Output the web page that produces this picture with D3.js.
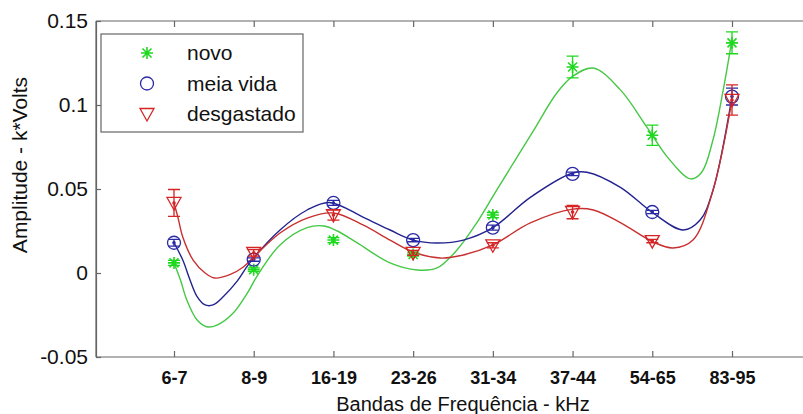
<!DOCTYPE html>
<html>
<head>
<meta charset="utf-8">
<script src="https://cdn.jsdelivr.net/npm/d3@7"></script>
<style>
  body { margin: 0; background: #fff; }
  svg { display: block; font-family: Arial, "Liberation Sans", sans-serif; }
  .axis path, .axis line { stroke: #666; stroke-width: 1.2; }
  .axis text { fill: #111; }
</style>
</head>
<body>
<svg width="803" height="414"></svg>
<script>
// frequency bands (x categories)
const bands = ['6-7', '8-9', '16-19', '23-26', '31-34', '37-44', '54-65', '83-95']
const yTicks = [-0.05, 0, 0.05, 0.1, 0.15]

// measured means and error half-widths
const novo = [0.006, 0.002, 0.0196, 0.011, 0.0345, 0.1226, 0.082, 0.137]
const novoErr = [0.0015, 0.001, 0.0015, 0.001, 0.0015, 0.0065, 0.006, 0.0065]
const meiaVida = [0.018, 0.008, 0.0417, 0.0196, 0.027, 0.059, 0.0363, 0.105]
const meiaVidaErr = [0.002, 0.001, 0.0015, 0.001, 0.0015, 0.001, 0.001, 0.005]
const desgastado = [0.0417, 0.012, 0.0345, 0.012, 0.0165, 0.0363, 0.019, 0.103]
const desgastadoErr = [0.008, 0.002, 0.003, 0.0015, 0.0015, 0.004, 0.001, 0.009]

// fitted curves: [band position, amplitude]
const novoFit = [[0, 0.006], [0.08, -0.004], [0.16, -0.016], [0.29, -0.028], [0.41, -0.032],
  [0.54, -0.031], [0.74, -0.024], [0.92, -0.012], [1.04, -0.002], [1.33, 0.0167],
  [1.67, 0.027], [1.88, 0.028], [2.05, 0.025], [2.30, 0.0179], [2.71, 0.006], [3.05, 0.0018],
  [3.30, 0.003], [3.55, 0.0137], [3.80, 0.030], [4.05, 0.0495], [4.5, 0.084], [4.8, 0.107],
  [5.0, 0.117], [5.26, 0.122], [5.60, 0.109], [5.93, 0.087], [6.19, 0.069], [6.48, 0.056],
  [6.62, 0.060], [6.76, 0.079], [6.89, 0.109], [7.0, 0.139]]
const meiaVidaFit = [[0, 0.018], [0.11, 0.0077], [0.2, -0.004], [0.29, -0.014], [0.39, -0.019],
  [0.49, -0.019], [0.62, -0.014], [0.79, -0.005], [0.95, 0.006], [1.33, 0.0256],
  [1.67, 0.0375], [1.95, 0.042], [2.37, 0.0333], [2.71, 0.0256], [3.0, 0.0196], [3.30, 0.0179],
  [3.63, 0.0196], [4.0, 0.027], [4.47, 0.045], [5.0, 0.0595], [5.18, 0.060], [5.6, 0.051],
  [6.01, 0.0357], [6.39, 0.0256], [6.6, 0.0315], [6.76, 0.049], [7.0, 0.105]]
const desgastadoFit = [[0, 0.0417], [0.05, 0.033], [0.11, 0.0214], [0.24, 0.0077], [0.39, 0.0],
  [0.51, -0.003], [0.70, -0.001], [0.87, 0.0036], [0.99, 0.009], [1.33, 0.0238],
  [1.67, 0.0327], [2.0, 0.0357], [2.37, 0.0286], [2.71, 0.0196], [3.0, 0.0125], [3.34, 0.0089],
  [3.63, 0.0107], [4.0, 0.0167], [4.47, 0.0298], [5.0, 0.038], [5.26, 0.0375], [5.6, 0.030],
  [6.01, 0.0185], [6.26, 0.0149], [6.51, 0.0196], [6.76, 0.049], [7.0, 0.103]]

const svg = d3.select('svg')
const plotLeft = 96, plotTop = 21, plotBottom = 357, plotRight = 830

const x = d3.scaleLinear().domain([0, 7]).range([174, 732])
const y = d3.scaleLinear().domain([-0.05, 0.15]).range([plotBottom, plotTop])

const series = [
  {name: 'novo', values: novo, err: novoErr, fit: novoFit, color: '#1fd81f', line: '#45c845', shape: 'star'},
  {name: 'meia vida', values: meiaVida, err: meiaVidaErr, fit: meiaVidaFit, color: '#2a2aa8', line: '#232390', shape: 'circle'},
  {name: 'desgastado', values: desgastado, err: desgastadoErr, fit: desgastadoFit, color: '#d62424', line: '#c83030', shape: 'tri'}
]

// axes
svg.append('g')
  .attr('class', 'axis')
  .attr('transform', 'translate(' + plotLeft + ',0)')
  .call(d3.axisLeft(y).tickValues(yTicks).tickSizeInner(-5).tickSizeOuter(0).tickPadding(8)
    .tickFormat(d => String(d)))
  .call(g => g.selectAll('text').attr('font-size', 21))

svg.append('g')
  .attr('class', 'axis')
  .attr('transform', 'translate(0,' + plotBottom + ')')
  .call(d3.axisBottom(x).tickValues(d3.range(bands.length)).tickSizeInner(-6).tickSizeOuter(0)
    .tickPadding(14).tickFormat(i => bands[i]))
  .call(g => g.select('.domain').attr('d', 'M' + plotLeft + ',0H' + plotRight))
  .call(g => g.selectAll('text').attr('font-size', 18).attr('font-weight', 'bold'))

svg.append('g')
  .attr('class', 'axis')
  .attr('transform', 'translate(0,' + plotTop + ')')
  .call(d3.axisTop(x).tickValues(d3.range(bands.length)).tickSizeInner(-6).tickSizeOuter(0)
    .tickFormat(''))
  .call(g => g.select('.domain').attr('d', 'M' + plotLeft + ',0H' + plotRight))

// titles
svg.append('text')
  .attr('x', 463).attr('y', 411)
  .attr('text-anchor', 'middle')
  .attr('font-size', 20)
  .attr('fill', '#111')
  .text('Bandas de Frequência - kHz')

svg.append('text')
  .attr('transform', 'translate(27,165) rotate(-90)')
  .attr('text-anchor', 'middle')
  .attr('font-size', 21)
  .attr('fill', '#111')
  .text('Amplitude - k*Volts')

// marker drawing
function drawMarker (g, shape, color) {
  if (shape === 'star') {
    const r = 6
    const r2 = 4.5
    g.append('path')
      .attr('d', 'M' + -r + ',0H' + r + 'M0,' + -r + 'V' + r +
        'M' + -r2 + ',' + -r2 + 'L' + r2 + ',' + r2 + 'M' + -r2 + ',' + r2 + 'L' + r2 + ',' + -r2)
      .attr('stroke', color).attr('stroke-width', 1.6).attr('fill', 'none')
  } else if (shape === 'circle') {
    g.append('circle').attr('r', 6.5)
      .attr('stroke', color).attr('stroke-width', 1.3).attr('fill', 'none')
  } else {
    g.append('path')
      .attr('d', 'M-7,-5.5L7,-5.5L0,7Z')
      .attr('stroke', color).attr('stroke-width', 1.3).attr('fill', 'none')
  }
}

const line = d3.line()
  .x(d => x(d[0]))
  .y(d => y(d[1]))
  .curve(d3.curveCatmullRom.alpha(0.5))

const plot = svg.append('g')

series.forEach(s => {
  plot.append('path')
    .datum(s.fit)
    .attr('d', line)
    .attr('fill', 'none')
    .attr('stroke', s.line)
    .attr('stroke-width', 1.4)
})

series.forEach(s => {
  const pts = plot.append('g').selectAll('g')
    .data(s.values.map((v, i) => ({i: i, v: v, e: s.err[i]})))
    .enter().append('g')

  // error bars
  pts.append('path')
    .attr('d', d => {
      const x0 = x(d.i), y1 = y(d.v + d.e), y2 = y(d.v - d.e)
      return 'M' + x0 + ',' + y1 + 'V' + y2 +
        'M' + (x0 - 6) + ',' + y1 + 'H' + (x0 + 6) +
        'M' + (x0 - 6) + ',' + y2 + 'H' + (x0 + 6)
    })
    .attr('stroke', s.color).attr('stroke-width', 1.3).attr('fill', 'none')

  pts.append('circle')
    .attr('cx', d => x(d.i)).attr('cy', d => y(d.v))
    .attr('r', 1.8).attr('fill', s.color)

  pts.append('g')
    .attr('transform', d => 'translate(' + x(d.i) + ',' + y(d.v) + ')')
    .each(function () { drawMarker(d3.select(this), s.shape, s.color) })
})

// left frame line drawn on top
svg.append('line')
  .attr('x1', plotLeft).attr('x2', plotLeft).attr('y1', plotTop).attr('y2', plotBottom)
  .attr('stroke', '#666').attr('stroke-width', 1.2)

// legend
const legend = svg.append('g')
legend.append('rect')
  .attr('x', 101).attr('y', 34).attr('width', 202).attr('height', 98)
  .attr('fill', '#fff').attr('stroke', '#666').attr('stroke-width', 1.2)

const legendRows = legend.selectAll('g.row')
  .data(series)
  .enter().append('g')
  .attr('class', 'row')
  .attr('transform', (d, i) => 'translate(147,' + (53 + i * 30.5) + ')')

legendRows.each(function (d) { drawMarker(d3.select(this), d.shape, d.color) })

legendRows.append('text')
  .attr('x', 40)
  .attr('dy', '0.35em')
  .attr('font-size', 21)
  .attr('fill', '#111')
  .text(d => d.name)
</script>
</body>
</html>
